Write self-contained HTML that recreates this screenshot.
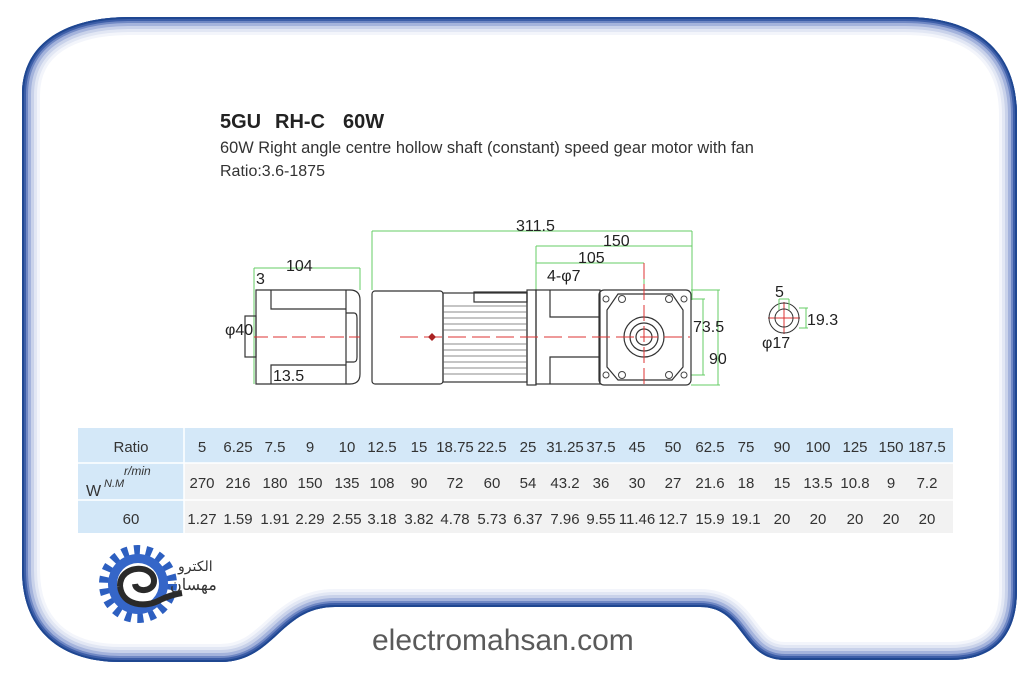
<!DOCTYPE html>
<html><head><meta charset="utf-8"><style>
body{margin:0;background:#fff;width:1029px;height:673px;overflow:hidden;font-family:"Liberation Sans",sans-serif}
</style></head><body>
<svg width="1029" height="673" viewBox="0 0 1029 673" xmlns="http://www.w3.org/2000/svg" font-family="Liberation Sans, sans-serif">
<defs>
<clipPath id="fr"><path id="fp" d="M22,95 C22,40 70,17 130,17 L905,17 C975,17 1017,50 1017,115 L1017,590 C1017,640 990,660 950,660 L785,660 C740,660 745,607 700,607 L335,607 C280,607 275,662 220,662 L120,662 C60,662 22,630 22,570 Z"/></clipPath>
</defs>
<g clip-path="url(#fr)" fill="none">
<use href="#fp" stroke="#f3f5fb" stroke-width="36"/>
<use href="#fp" stroke="#e2e7f4" stroke-width="30"/>
<use href="#fp" stroke="#c9d2ea" stroke-width="24"/>
<use href="#fp" stroke="#a4b3dc" stroke-width="18"/>
<use href="#fp" stroke="#7088c4" stroke-width="12"/>
<use href="#fp" stroke="#3d5ea8" stroke-width="8"/>
<use href="#fp" stroke="#1f4791" stroke-width="4"/>
</g>
<g font-size="20" font-weight="bold" fill="#222"><text x="220" y="128">5GU</text><text x="275" y="128">RH-C</text><text x="343" y="128">60W</text></g>
<text x="220" y="153" font-size="16.4" fill="#333">60W Right angle centre hollow shaft (constant) speed gear motor with fan</text>
<text x="220" y="176" font-size="16" fill="#333">Ratio:3.6-1875</text>

<g fill="none" stroke="#6c6" stroke-width="1">
<path d="M254,268H360M254,268V384M360,268V290M245,316H256M245,357H256M256,384H272"/>
<path d="M372,231H692M372,231V290M692,231V300M536,246H692M536,263H644M536,246V290M644,263V290M540,290H600"/>
<path d="M691,299H705M691,375H705M703,299V375M691,290H720M691,385H720M718,290V385"/>
</g>
<g fill="none" stroke="#333" stroke-width="1.2">
<path d="M256,290H350Q360,290 360,300V374Q360,384 350,384H256Z"/>
<path d="M271,290V309H346M346,290V384M271,384V365H346M346,313H354Q357,313 357,318V357Q357,362 354,362H346"/>
<rect x="245" y="316" width="11" height="41"/>
<rect x="372" y="291" width="71" height="93" rx="3"/>
<rect x="443" y="293" width="84" height="89"/>
<rect x="474" y="292" width="53" height="10"/>
<rect x="527" y="290" width="9" height="95"/>
<rect x="536" y="290" width="64" height="94"/>
<path d="M550,290V317H600M550,384V357H600"/>
<rect x="599" y="290" width="92" height="95" rx="5"/>
<path d="M618,294H672L683,310V367L672,380H618L607,367V310Z"/>
<circle cx="644" cy="337" r="20"/><circle cx="644" cy="337" r="14"/><circle cx="644" cy="337" r="8"/>
</g>
<g stroke="#666" stroke-width="0.7">
<path d="M443,306H527M443,312H527M443,318H527M443,324H527M443,330H527M443,344H527M443,350H527M443,356H527M443,362H527M443,368H527M443,374H527"/>
</g>
<g fill="none" stroke="#444" stroke-width="1">
<circle cx="606" cy="299" r="3"/><circle cx="622" cy="299" r="3.5"/><circle cx="669" cy="299" r="3.5"/><circle cx="684" cy="299" r="3"/>
<circle cx="606" cy="375" r="3"/><circle cx="622" cy="375" r="3.5"/><circle cx="669" cy="375" r="3.5"/><circle cx="684" cy="375" r="3"/>
</g>
<g stroke="#d33" stroke-width="1" fill="none">
<path d="M254,337H360" stroke-dasharray="14,5"/>
<path d="M400,337H690" stroke-dasharray="18,6"/>
<path d="M644,263V388" stroke-dasharray="16,5"/>
<path d="M768,318H800M784,302V334"/>
</g>
<path d="M432,333L436,337L432,341L428,337Z" fill="#a22"/>
<g fill="none">
<circle cx="784" cy="318" r="15" stroke="#333"/>
<circle cx="784" cy="318" r="9" stroke="#333"/>
<path d="M779,299V310M789,299V310M779,299H789M799,308H808M799,328H808M806,308V328" stroke="#6c6"/>
</g>
<g font-size="16" fill="#222">
<text x="286" y="271">104</text><text x="256" y="284">3</text><text x="225" y="335">φ40</text><text x="273" y="381">13.5</text>
<text x="516" y="231">311.5</text><text x="603" y="246">150</text><text x="578" y="263">105</text><text x="547" y="281">4-φ7</text>
<text x="693" y="332">73.5</text><text x="709" y="364">90</text>
<text x="775" y="297">5</text><text x="807" y="325">19.3</text><text x="762" y="348">φ17</text>
</g>

<rect x="78" y="428" width="875" height="35" fill="#d4e8f8"/>
<rect x="78" y="463" width="106" height="70" fill="#d4e8f8"/>
<rect x="184" y="463" width="769" height="70" fill="#f2f2f2"/>
<g stroke="#fff" stroke-width="1.5"><path d="M78,463H953M78,500H953M184,428V533"/></g>
<g font-size="15" fill="#333" text-anchor="middle">
<text x="131" y="452">Ratio</text><text x="131" y="524">60</text>
</g>
<text x="86" y="496" font-size="16" fill="#333">W</text>
<text x="104" y="487" font-size="11" font-style="italic" fill="#333">N.M</text>
<text x="124" y="475" font-size="12" font-style="italic" fill="#333">r/min</text>
<g font-size="15" fill="#333" text-anchor="middle">
<text y="452"><tspan x="202">5</tspan><tspan x="238">6.25</tspan><tspan x="275">7.5</tspan><tspan x="310">9</tspan><tspan x="347">10</tspan><tspan x="382">12.5</tspan><tspan x="419">15</tspan><tspan x="455">18.75</tspan><tspan x="492">22.5</tspan><tspan x="528">25</tspan><tspan x="565">31.25</tspan><tspan x="601">37.5</tspan><tspan x="637">45</tspan><tspan x="673">50</tspan><tspan x="710">62.5</tspan><tspan x="746">75</tspan><tspan x="782">90</tspan><tspan x="818">100</tspan><tspan x="855">125</tspan><tspan x="891">150</tspan><tspan x="927">187.5</tspan></text>
<text y="488"><tspan x="202">270</tspan><tspan x="238">216</tspan><tspan x="275">180</tspan><tspan x="310">150</tspan><tspan x="347">135</tspan><tspan x="382">108</tspan><tspan x="419">90</tspan><tspan x="455">72</tspan><tspan x="492">60</tspan><tspan x="528">54</tspan><tspan x="565">43.2</tspan><tspan x="601">36</tspan><tspan x="637">30</tspan><tspan x="673">27</tspan><tspan x="710">21.6</tspan><tspan x="746">18</tspan><tspan x="782">15</tspan><tspan x="818">13.5</tspan><tspan x="855">10.8</tspan><tspan x="891">9</tspan><tspan x="927">7.2</tspan></text>
<text y="524"><tspan x="202">1.27</tspan><tspan x="238">1.59</tspan><tspan x="275">1.91</tspan><tspan x="310">2.29</tspan><tspan x="347">2.55</tspan><tspan x="382">3.18</tspan><tspan x="419">3.82</tspan><tspan x="455">4.78</tspan><tspan x="492">5.73</tspan><tspan x="528">6.37</tspan><tspan x="565">7.96</tspan><tspan x="601">9.55</tspan><tspan x="637">11.46</tspan><tspan x="673">12.7</tspan><tspan x="710">15.9</tspan><tspan x="746">19.1</tspan><tspan x="782">20</tspan><tspan x="818">20</tspan><tspan x="855">20</tspan><tspan x="891">20</tspan><tspan x="927">20</tspan></text>
</g>

<g transform="translate(138,584)">
<circle r="34" fill="none" stroke="#2d5fc0" stroke-width="10" stroke-dasharray="6,6"/>
<circle r="30" fill="#3566c8"/>
<circle r="21" fill="#fff"/>
<path d="M-18,2 C-18,-20 16,-20 16,-3 C16,8 -2,9 -3,0 M-18,2 C-16,22 8,24 22,16 C30,12 38,10 44,9" fill="none" stroke="#2a2a2a" stroke-width="6"/>
</g>
<text x="178" y="571" font-size="14" fill="#333" font-family="Noto Sans CJK SC, sans-serif">الکترو</text>
<text x="170" y="590" font-size="16" fill="#333" font-family="Noto Sans CJK SC, sans-serif">مهسان</text>
<text x="372" y="650" font-size="30" fill="#5a5a5a">electromahsan.com</text>
</svg>
</body></html>
